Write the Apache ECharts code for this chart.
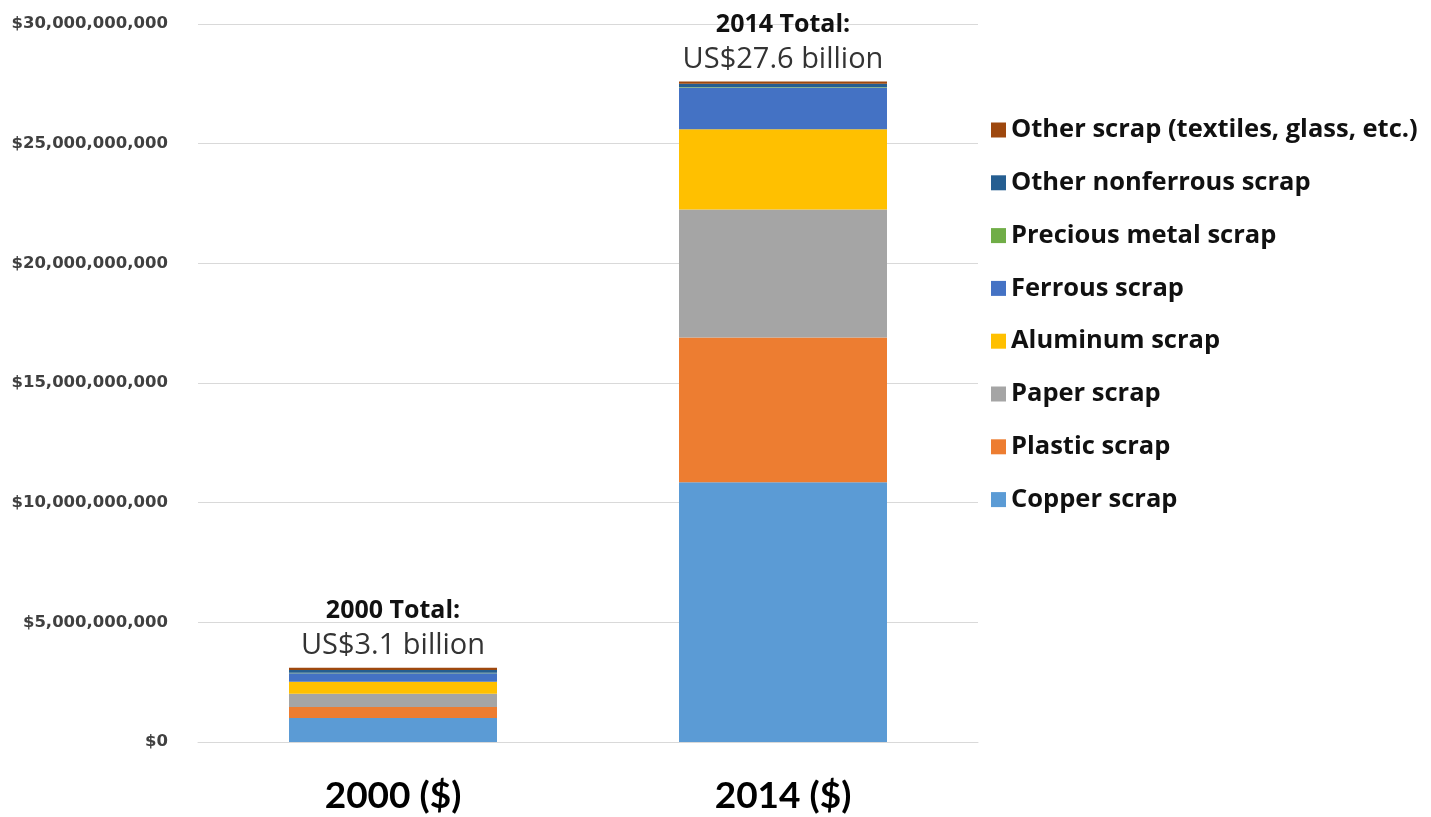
<!DOCTYPE html>
<html>
<head>
<meta charset="utf-8">
<title>Scrap exports 2000 vs 2014</title>
<script src="https://cdn.jsdelivr.net/npm/echarts@6/dist/echarts.min.js"></script>
<style>
  html, body { margin: 0; padding: 0; background: #fff; }
  #chart { width: 1431px; height: 817px; }
</style>
</head>
<body>
<div id="chart"></div>
<script>
// categories on the x axis
const years = ['2000 ($)', '2014 ($)'];
const yearNames = ['2000', '2014'];

// values in US$ billions
const copper = [1.00, 10.85];
const plastic = [0.46, 6.05];
const paper = [0.56, 5.35];
const aluminum = [0.50, 3.35];
const ferrous = [0.35, 1.75];
const precious = [0.02, 0.02];
const nonferrous = [0.12, 0.13];
const other = [0.09, 0.10];

// y axis ticks
const yTicks = [0, 5e9, 10e9, 15e9, 20e9, 25e9, 30e9];

const seriesDefs = [
  { name: 'Copper scrap', data: copper, color: '#5B9BD5' },
  { name: 'Plastic scrap', data: plastic, color: '#ED7D31' },
  { name: 'Paper scrap', data: paper, color: '#A5A5A5' },
  { name: 'Aluminum scrap', data: aluminum, color: '#FFC000' },
  { name: 'Ferrous scrap', data: ferrous, color: '#4472C4' },
  { name: 'Precious metal scrap', data: precious, color: '#70AD47' },
  { name: 'Other nonferrous scrap', data: nonferrous, color: '#255E91' },
  { name: 'Other scrap (textiles, glass, etc.)', data: other, color: '#9E480E' }
];

const totals = years.map((_, i) => seriesDefs.reduce((s, d) => s + d.data[i], 0));

const chart = echarts.init(document.getElementById('chart'));

const series = seriesDefs.map((d, idx) => {
  const s = {
    name: d.name,
    type: 'bar',
    stack: 'total',
    barWidth: 208,
    itemStyle: { color: d.color },
    data: d.data.map(v => v * 1e9)
  };
  if (idx === seriesDefs.length - 1) {
    // total annotation above each bar
    s.label = {
      show: true,
      position: 'top',
      distance: 5,
      formatter: p => '{a|' + yearNames[p.dataIndex] + ' Total:}\n{b|US$' + totals[p.dataIndex].toFixed(1) + ' billion}',
      rich: {
        a: { fontFamily: 'Open Sans', fontWeight: 'bold', fontSize: 25, color: '#111', lineHeight: 36, align: 'center' },
        b: { fontFamily: 'Open Sans', fontSize: 29, color: '#333', lineHeight: 34, align: 'center' }
      }
    };
  }
  return s;
});

chart.setOption({
  animation: false,
  backgroundColor: '#fff',
  grid: { left: 198, right: 453, top: 24, bottom: 75 },
  legend: {
    orient: 'vertical',
    left: 986,
    top: 112,
    itemWidth: 15,
    itemHeight: 15,
    itemGap: 26.8,
    icon: 'rect',
    data: seriesDefs.map(d => d.name).reverse(),
    textStyle: { fontFamily: 'Open Sans', fontWeight: 'bold', fontSize: 25.5, lineHeight: 22, color: '#111' }
  },
  xAxis: {
    type: 'category',
    data: years,
    axisLine: { lineStyle: { color: '#d9d9d9' } },
    axisTick: { show: false },
    axisLabel: { fontFamily: 'Lato', fontWeight: 'bold', fontSize: 37, color: '#000', margin: 36 }
  },
  yAxis: {
    type: 'value',
    min: yTicks[0],
    max: yTicks[yTicks.length - 1],
    interval: yTicks[1] - yTicks[0],
    splitLine: { lineStyle: { color: '#d9d9d9' } },
    axisLabel: {
      fontFamily: 'DejaVu Sans',
      fontWeight: 'bold',
      fontSize: 16.5,
      color: '#404040',
      margin: 30,
      formatter: v => '$' + v.toLocaleString('en-US')
    }
  },
  series: series
});
</script>
</body>
</html>
